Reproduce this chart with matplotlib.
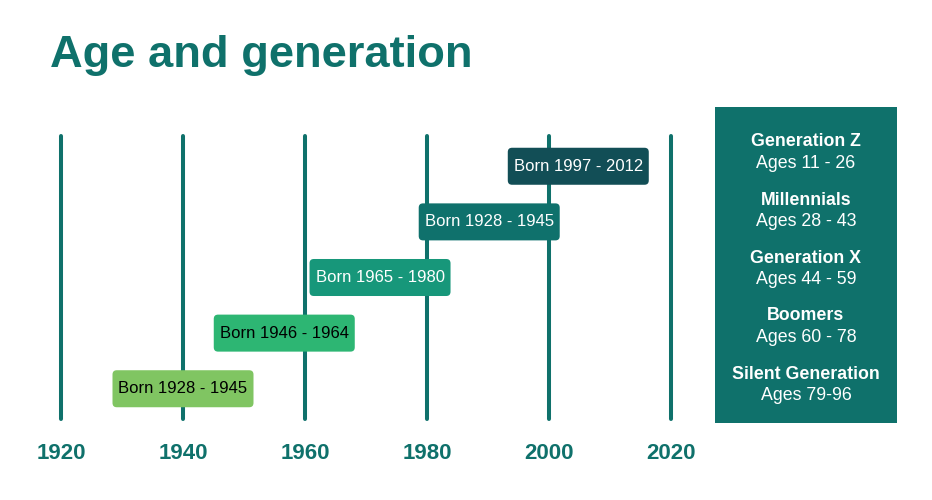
import matplotlib
matplotlib.use("Agg")
import matplotlib.pyplot as plt
from matplotlib.patches import FancyBboxPatch, Rectangle

plt.rcParams["font.family"] = ["Liberation Sans", "DejaVu Sans"]

# --- data -------------------------------------------------------------
title = "Age and generation"
decades = [1920, 1940, 1960, 1980, 2000, 2020]

# one box per row, bottom row first (text kept as in the source image)
born_labels = ["Born 1928 - 1945", "Born 1946 - 1964", "Born 1965 - 1980",
               "Born 1928 - 1945", "Born 1997 - 2012"]
label_year = [1940, 1956.6, 1972.3, 1990.2, 2004.8]   # box centres
box_colors = ["#80c562", "#2db673", "#17977a", "#0f716c", "#124e56"]
text_colors = ["black", "black", "white", "white", "white"]

generations = ["Generation Z", "Millennials", "Generation X", "Boomers", "Silent Generation"]
ages = ["Ages 11 - 26", "Ages 28 - 43", "Ages 44 - 59", "Ages 60 - 78", "Ages 79-96"]

# --- layout -----------------------------------------------------------
TEAL = "#0f716b"
W, H = 932, 500
PX_YEAR = 6.1      # pixels per year on the timeline
PX_ROW = 55.6      # pixels between box rows

fig = plt.figure(figsize=(W / 100, H / 100), dpi=100)

# timeline area spans pixel x 0..700, y 134..421
ax = fig.add_axes([0, (H - 421) / H, 700 / W, (421 - 134) / H])
ax.set_xlim(1920 - 61 / PX_YEAR, 1920 + (700 - 61) / PX_YEAR)
ax.set_ylim(-0.58, 4.58)

ax.vlines(decades, -0.55, 4.55, color=TEAL, linewidth=2.9,
          capstyle="round", clip_on=False, zorder=1)

box_w = 141 / PX_YEAR
box_h = 37 / PX_ROW
for row, (lbl, yr, fc, tc) in enumerate(zip(born_labels, label_year, box_colors, text_colors)):
    ax.add_patch(FancyBboxPatch((yr - box_w / 2, row - box_h / 2), box_w, box_h,
                                boxstyle="round,pad=0,rounding_size=0.7",
                                mutation_aspect=PX_YEAR / PX_ROW,
                                facecolor=fc, edgecolor="none", zorder=2))
    ax.text(yr, row, lbl, ha="center", va="center", fontsize=12,
            color=tc, zorder=3)

ax.set_xticks(decades)
ax.set_xticklabels([str(d) for d in decades], fontsize=16,
                   fontweight="bold", color=TEAL)
ax.tick_params(axis="x", length=0, pad=16)
ax.set_yticks([])
for s in ax.spines.values():
    s.set_visible(False)

# title
fig.text(50 / W, 1 - 67 / H, title, fontsize=32.6, fontweight="bold",
         color=TEAL, ha="left", va="baseline")

# right panel with generation names
fig.add_artist(Rectangle((715 / W, (H - 423) / H), 182 / W, 316 / H,
                         transform=fig.transFigure, facecolor=TEAL,
                         edgecolor="none"))
name_y = [142, 200.5, 258.5, 316, 374.5]
for gy, name, age in zip(name_y, generations, ages):
    fig.text(806 / W, 1 - gy / H, name, fontsize=12.8, fontweight="bold",
             color="white", ha="center", va="center")
    fig.text(806 / W, 1 - (gy + 21.5) / H, age, fontsize=12.8,
             color="white", ha="center", va="center")

fig.savefig("out.png", dpi=100)
